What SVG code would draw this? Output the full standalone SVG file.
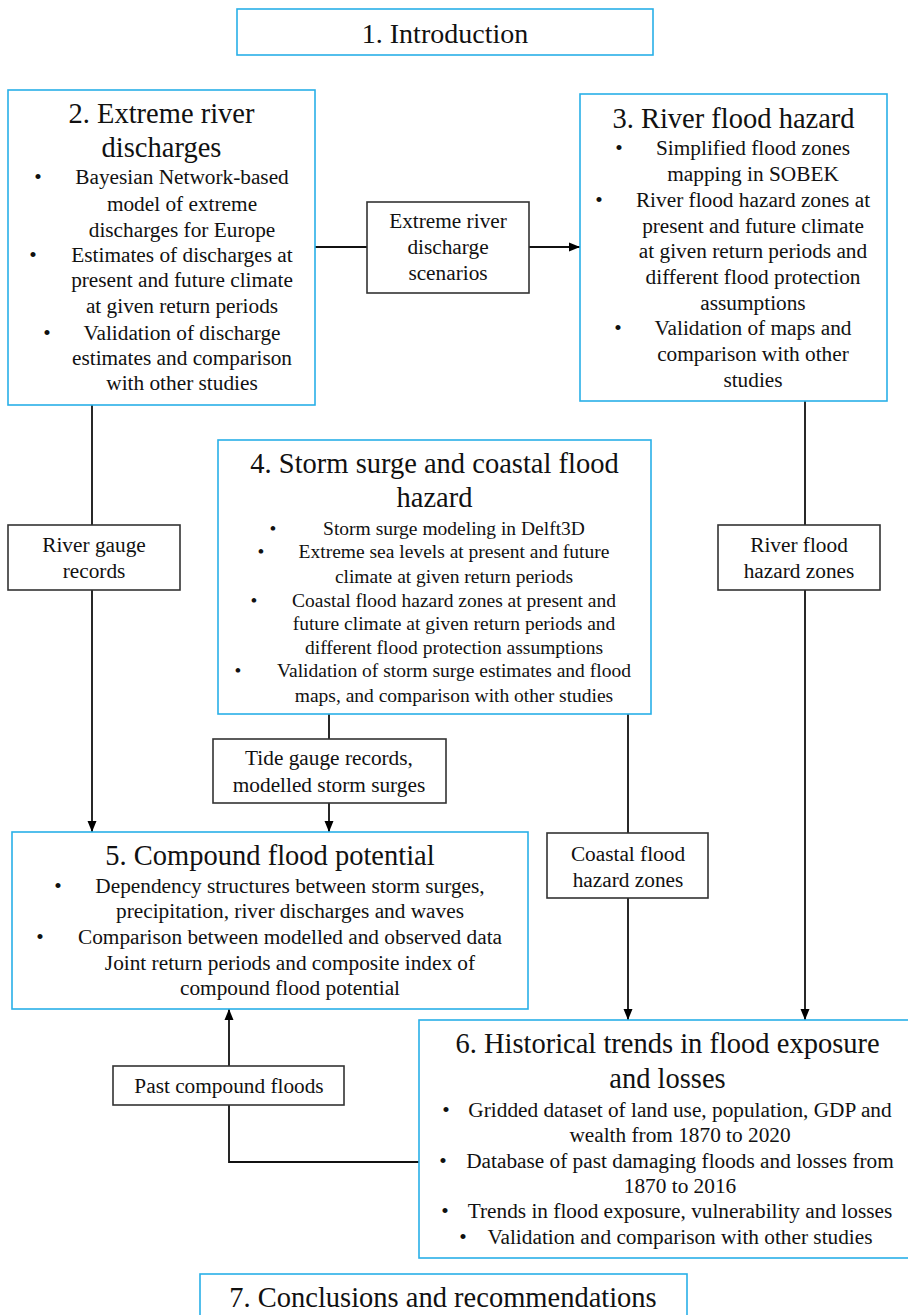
<svg xmlns="http://www.w3.org/2000/svg" width="908" height="1315" viewBox="0 0 908 1315">
<defs>
<marker id="arr" markerUnits="userSpaceOnUse" markerWidth="12" markerHeight="12" viewBox="0 0 12 12" refX="11" refY="6" orient="auto">
<path d="M0,1.5 L11,6 L0,10.5 Z" fill="#000"/>
</marker>
<style>
.main{fill:#fff;stroke:#29b0e8;stroke-width:1.6}
.lab{fill:#fff;stroke:#333;stroke-width:1.6}
text{font-family:"Liberation Serif","Times New Roman",serif;fill:#111;text-anchor:middle}
.t{font-size:28.5px}
.b{font-size:21.3px}
.s{font-size:19.5px}
.con{fill:none;stroke:#111;stroke-width:1.8}
</style>
</defs>
<rect width="908" height="1315" fill="#fff"/>
<g id="connectors">
<line class="con" x1="315" y1="247" x2="367" y2="247"/>
<line class="con" x1="529" y1="247" x2="580" y2="247" marker-end="url(#arr)"/>
<line class="con" x1="92" y1="405" x2="92" y2="525"/>
<line class="con" x1="92" y1="590" x2="92" y2="832" marker-end="url(#arr)"/>
<line class="con" x1="805" y1="401" x2="805" y2="525"/>
<line class="con" x1="805" y1="590" x2="805" y2="1020" marker-end="url(#arr)"/>
<line class="con" x1="329" y1="714" x2="329" y2="739"/>
<line class="con" x1="329" y1="803" x2="329" y2="832" marker-end="url(#arr)"/>
<line class="con" x1="628" y1="714" x2="628" y2="833"/>
<line class="con" x1="628" y1="898" x2="628" y2="1020" marker-end="url(#arr)"/>
<polyline class="con" points="419,1162 229,1162 229,1105"/>
<line class="con" x1="229" y1="1066" x2="229" y2="1009" marker-end="url(#arr)"/>
</g>
<g id="n1">
<rect class="main" x="237" y="9" width="416" height="46"/>
<text x="445" y="43" style="font-size:28px">1. Introduction</text>
</g>
<g id="n2">
<rect class="main" x="8" y="90" width="307" height="315"/>
<text class="t" x="161.5" y="123">2. Extreme river</text>
<text class="t" x="161.5" y="157">discharges</text>
<g class="b">
<text x="38" y="184">•</text>
<text x="182" y="184">Bayesian Network-based</text>
<text x="182" y="211">model of extreme</text>
<text x="182" y="237">discharges for Europe</text>
<text x="33" y="262">•</text>
<text x="182" y="262">Estimates of discharges at</text>
<text x="182" y="287">present and future climate</text>
<text x="182" y="313">at given return periods</text>
<text x="47" y="340">•</text>
<text x="182" y="340">Validation of discharge</text>
<text x="182" y="365">estimates and comparison</text>
<text x="182" y="390">with other studies</text>
</g>
</g>
<g id="l_scen">
<rect class="lab" x="367" y="202" width="162" height="91"/>
<text class="b" x="448" y="228">Extreme river</text>
<text class="b" x="448" y="254">discharge</text>
<text class="b" x="448" y="280">scenarios</text>
</g>
<g id="n3">
<rect class="main" x="580" y="94" width="307" height="307"/>
<text class="t" x="733.5" y="128">3. River flood hazard</text>
<g class="b">
<text x="619" y="155">•</text>
<text x="753" y="155">Simplified flood zones</text>
<text x="753" y="181">mapping in SOBEK</text>
<text x="599" y="207">•</text>
<text x="753" y="207">River flood hazard zones at</text>
<text x="753" y="233">present and future climate</text>
<text x="753" y="258">at given return periods and</text>
<text x="753" y="284">different flood protection</text>
<text x="753" y="310">assumptions</text>
<text x="618" y="335">•</text>
<text x="753" y="335">Validation of maps and</text>
<text x="753" y="361">comparison with other</text>
<text x="753" y="387">studies</text>
</g>
</g>
<g id="l_rgauge">
<rect class="lab" x="8" y="525" width="172" height="65"/>
<text class="b" x="94" y="552">River gauge</text>
<text class="b" x="94" y="578">records</text>
</g>
<g id="l_rflood">
<rect class="lab" x="718" y="525" width="162" height="65"/>
<text class="b" x="799" y="552">River flood</text>
<text class="b" x="799" y="578">hazard zones</text>
</g>
<g id="n4">
<rect class="main" x="218" y="440" width="433" height="274"/>
<text class="t" x="434.5" y="473">4. Storm surge and coastal flood</text>
<text class="t" x="434.5" y="507">hazard</text>
<g class="s">
<text x="273" y="535">•</text>
<text x="454" y="535">Storm surge modeling in Delft3D</text>
<text x="261" y="558">•</text>
<text x="454" y="558">Extreme sea levels at present and future</text>
<text x="454" y="583">climate at given return periods</text>
<text x="254" y="607">•</text>
<text x="454" y="607">Coastal flood hazard zones at present and</text>
<text x="454" y="630">future climate at given return periods and</text>
<text x="454" y="654">different flood protection assumptions</text>
<text x="238" y="677">•</text>
<text x="454" y="677">Validation of storm surge estimates and flood</text>
<text x="454" y="702">maps, and comparison with other studies</text>
</g>
</g>
<g id="l_tide">
<rect class="lab" x="213" y="739" width="233" height="64"/>
<text class="b" x="329" y="765">Tide gauge records,</text>
<text class="b" x="329" y="792">modelled storm surges</text>
</g>
<g id="l_coast">
<rect class="lab" x="547" y="833" width="161" height="65"/>
<text class="b" x="628" y="861">Coastal flood</text>
<text class="b" x="628" y="887">hazard zones</text>
</g>
<g id="n5">
<rect class="main" x="12" y="832" width="516" height="177"/>
<text class="t" x="270" y="865">5. Compound flood potential</text>
<g class="b">
<text x="58" y="893">•</text>
<text x="290" y="893">Dependency structures between storm surges,</text>
<text x="290" y="918">precipitation, river discharges and waves</text>
<text x="40" y="944">•</text>
<text x="290" y="944">Comparison between modelled and observed data</text>
<text x="290" y="970">Joint return periods and composite index of</text>
<text x="290" y="995">compound flood potential</text>
</g>
</g>
<g id="l_past">
<rect class="lab" x="113" y="1066" width="231" height="39"/>
<text class="b" x="229" y="1093">Past compound floods</text>
</g>
<g id="n6">
<rect class="main" x="419" y="1020" width="497" height="238"/>
<text class="t" x="667.5" y="1053">6. Historical trends in flood exposure</text>
<text class="t" x="667.5" y="1088">and losses</text>
<g class="b">
<text x="446" y="1117">•</text>
<text x="680" y="1117">Gridded dataset of land use, population, GDP and</text>
<text x="680" y="1142">wealth from 1870 to 2020</text>
<text x="443" y="1168">•</text>
<text x="680" y="1168">Database of past damaging floods and losses from</text>
<text x="680" y="1193">1870 to 2016</text>
<text x="445" y="1218">•</text>
<text x="680" y="1218">Trends in flood exposure, vulnerability and losses</text>
<text x="463" y="1244">•</text>
<text x="680" y="1244">Validation and comparison with other studies</text>
</g>
</g>
<g id="n7">
<rect class="main" x="200" y="1274" width="487" height="60"/>
<text class="t" x="443" y="1307">7. Conclusions and recommendations</text>
</g>
</svg>
